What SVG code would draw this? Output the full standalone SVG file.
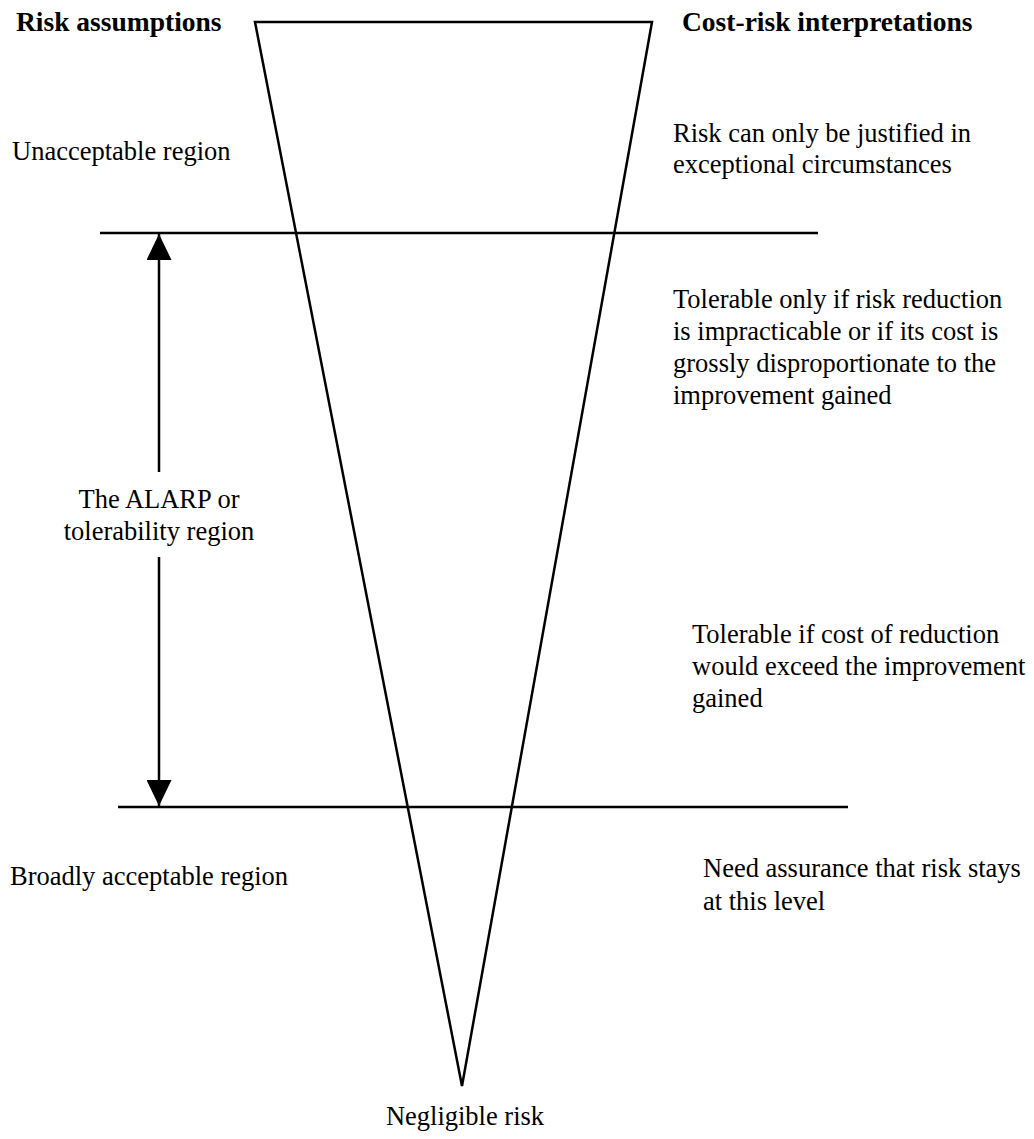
<svg xmlns="http://www.w3.org/2000/svg" width="1034" height="1139" viewBox="0 0 1034 1139">
  <style>
    .txt { font-family: "Liberation Serif", "Times New Roman", serif; font-size: 26.5px; fill: #000; }
    .head { font-family: "Liberation Serif", "Times New Roman", serif; font-size: 27.5px; font-weight: bold; fill: #000; }
    .ln { stroke: #000; stroke-width: 2.5; fill: none; }
  </style>
  <defs>
    <marker id="arrowhead" viewBox="0 0 26 25" refX="26" refY="12.5" markerWidth="26" markerHeight="25" markerUnits="userSpaceOnUse" orient="auto">
      <path d="M0,0 L26,12.5 L0,25 Z" fill="#000"/>
    </marker>
  </defs>

  <rect width="1034" height="1139" fill="#fff"/>

  <!-- column headings -->
  <g id="heading-left"><text class="head" x="16" y="31">Risk assumptions</text></g>
  <g id="heading-right"><text class="head" x="682" y="31">Cost-risk interpretations</text></g>

  <!-- risk triangle -->
  <g id="triangle">
    <polygon class="ln" points="255,22 652,22 462,1086" stroke-linejoin="miter"/>
  </g>

  <!-- region boundaries and ALARP span arrows -->
  <g id="connectors">
    <line class="ln" x1="100" y1="233" x2="818" y2="233"/>
    <line class="ln" x1="118" y1="807" x2="848" y2="807"/>
    <line class="ln" x1="159" y1="472" x2="159" y2="234" marker-end="url(#arrowhead)"/>
    <line class="ln" x1="159" y1="557" x2="159" y2="806" marker-end="url(#arrowhead)"/>
  </g>

  <!-- left column labels -->
  <g id="unacceptable"><text class="txt" x="12" y="160">Unacceptable region</text></g>
  <g id="alarp">
    <text class="txt" x="159" y="508" text-anchor="middle">The ALARP or</text>
    <text class="txt" x="159" y="540" text-anchor="middle">tolerability region</text>
  </g>
  <g id="broadly-acceptable"><text class="txt" x="10" y="885">Broadly acceptable region</text></g>
  <g id="negligible"><text class="txt" x="465" y="1125" text-anchor="middle">Negligible risk</text></g>

  <!-- right column interpretations -->
  <g id="interp-unacceptable">
    <text class="txt" x="673" y="142">Risk can only be justified in</text>
    <text class="txt" x="673" y="173">exceptional circumstances</text>
  </g>
  <g id="interp-tolerable-only">
    <text class="txt" x="673" y="308">Tolerable only if risk reduction</text>
    <text class="txt" x="673" y="340">is impracticable or if its cost is</text>
    <text class="txt" x="673" y="372">grossly disproportionate to the</text>
    <text class="txt" x="673" y="404">improvement gained</text>
  </g>
  <g id="interp-tolerable">
    <text class="txt" x="692" y="643">Tolerable if cost of reduction</text>
    <text class="txt" x="692" y="675">would exceed the improvement</text>
    <text class="txt" x="692" y="707">gained</text>
  </g>
  <g id="interp-acceptable">
    <text class="txt" x="703" y="877">Need assurance that risk stays</text>
    <text class="txt" x="703" y="910">at this level</text>
  </g>
</svg>
